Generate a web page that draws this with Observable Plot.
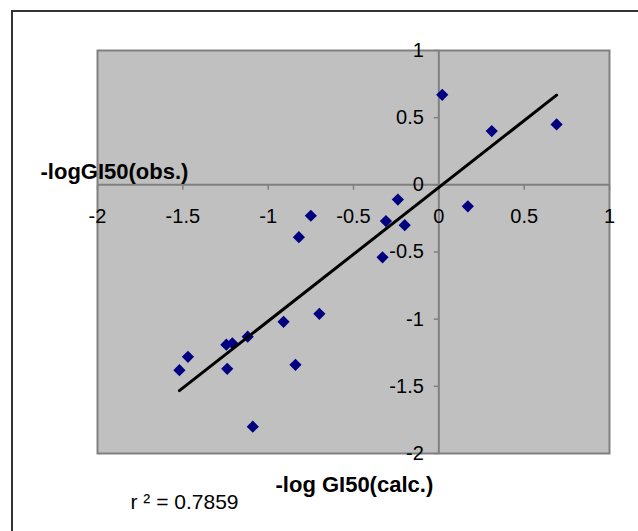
<!DOCTYPE html>
<html>
<head>
<meta charset="utf-8">
<script src="https://cdn.jsdelivr.net/npm/d3@7"></script>
<script src="https://cdn.jsdelivr.net/npm/@observablehq/plot@0.6"></script>
<style>
  html, body { margin: 0; padding: 0; background: #fff; }
  #wrap { position: relative; width: 638px; height: 531px; overflow: hidden; }
  #border { position: absolute; left: 11px; top: 10px; width: 660px; height: 560px; border: 2px solid #333; box-sizing: border-box; }
  #chart { position: absolute; left: 0; top: 0; }
</style>
</head>
<body>
<div id="wrap">
  <div id="border"></div>
  <div id="chart"></div>
</div>
<script>
// -log GI50, calculated vs observed
const calc = [0.02, 0.69, 0.31, 0.17, -0.24, -0.31, -0.20, -0.75, -0.82, -0.33,
              -0.70, -0.91, -1.12, -1.245, -1.21, -1.47, -1.52, -1.24, -0.84, -1.09];
const obs  = [0.67, 0.45, 0.40, -0.16, -0.11, -0.27, -0.30, -0.23, -0.39, -0.54,
              -0.96, -1.02, -1.13, -1.19, -1.18, -1.28, -1.38, -1.37, -1.34, -1.80];

const xTicks = [-2, -1.5, -1, -0.5, 0, 0.5, 1];
const yTicks = [1, 0.5, 0, -0.5, -1, -1.5, -2];
const xTitle = "-log GI50(calc.)";
const yTitle = "-logGI50(obs.)";
const fitLabel = "r ² = 0.7859";

const data = calc.map((c, i) => ({calc: c, obs: obs[i]}));

const font = "Arial, 'Liberation Sans', sans-serif";
const axisColor = "#808080";

// short tick marks hanging off the axes that cross at the origin
const tickDown = {draw(ctx) { ctx.moveTo(0, 0); ctx.lineTo(0, 5); }};
const tickLeft = {draw(ctx) { ctx.moveTo(0, 0); ctx.lineTo(-5, 0); }};

const chart = Plot.plot({
  width: 638,
  height: 531,
  marginLeft: 97,
  marginRight: 29,
  marginTop: 50,
  marginBottom: 78,
  x: {domain: [-2, 1], axis: null},
  y: {domain: [-2, 1], axis: null},
  style: {fontFamily: font, background: "transparent", overflow: "visible"},
  marks: [
    Plot.frame({fill: "#c0c0c0", stroke: axisColor, strokeWidth: 2}),
    Plot.ruleY([0], {stroke: axisColor, strokeWidth: 2}),
    Plot.ruleX([0], {stroke: axisColor, strokeWidth: 2}),
    Plot.dot(xTicks, {x: d => d, y: 0, symbol: tickDown, fill: "none", stroke: axisColor, strokeWidth: 1.5}),
    Plot.dot(yTicks, {x: 0, y: d => d, symbol: tickLeft, fill: "none", stroke: axisColor, strokeWidth: 1.5}),
    Plot.text(xTicks, {x: d => d, y: 0, text: d => String(d), dy: 32, fontSize: 20, fill: "#000"}),
    Plot.text(yTicks, {x: 0, y: d => d, text: d => String(d), dx: -15, textAnchor: "end", fontSize: 20, fill: "#000"}),
    Plot.dot(data, {x: "calc", y: "obs", symbol: "diamond2", r: 5.5, fill: "#000080", stroke: "none"}),
    Plot.linearRegressionY(data, {x: "calc", y: "obs", ci: 0, stroke: "#000", strokeWidth: 3}),
    Plot.text([yTitle], {frameAnchor: "top-left", text: d => d, textAnchor: "start", dx: -57, dy: 113, fontSize: 22, fontWeight: "bold", fill: "#000"}),
    Plot.text([xTitle], {frameAnchor: "bottom-left", text: d => d, textAnchor: "start", dx: 178, dy: 38, fontSize: 22, fontWeight: "bold", fill: "#000"}),
    Plot.text([fitLabel], {frameAnchor: "bottom-left", text: d => d, textAnchor: "start", dx: 33, dy: 55, fontSize: 21, fill: "#000"})
  ]
});

document.getElementById("chart").append(chart);
</script>
</body>
</html>
